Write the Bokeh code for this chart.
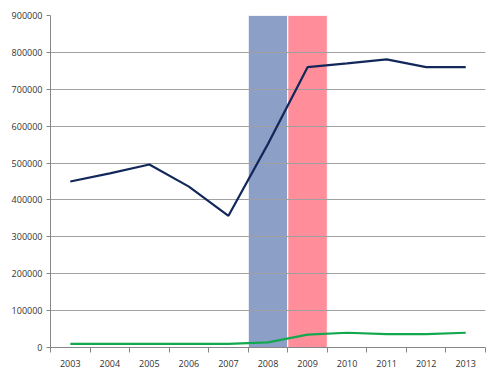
from bokeh.plotting import figure
from bokeh.models import FixedTicker, Range1d, BasicTickFormatter
from bokeh.embed import file_html
from bokeh.resources import INLINE

years = ["2003", "2004", "2005", "2006", "2007", "2008", "2009", "2010", "2011", "2012", "2013"]
series_blue = [450000, 472000, 496000, 436000, 357000, 552000, 760000, 770000, 781000, 760000, 760000]
series_green = [10000, 10000, 10000, 10000, 10000, 14000, 35000, 40000, 36000, 36000, 40000]
band_years = ["2008", "2009"]
band_colors = ["#8C9FC7", "#FF8E9A"]
y_ticks = [0, 100000, 200000, 300000, 400000, 500000, 600000, 700000, 800000, 900000]

FONT = "Open Sans"
n = len(years)
xc = [i + 0.5 for i in range(n)]

p = figure(width=492, height=368, output_backend="svg", toolbar_location=None,
           x_range=Range1d(0, n), y_range=Range1d(y_ticks[0], y_ticks[-1]),
           frame_width=435, frame_height=332,
           min_border_left=50, min_border_right=7, min_border_top=15, min_border_bottom=21)
p.outline_line_color = None
p.background_fill_color = "white"

# bands
for yr, col in zip(band_years, band_colors):
    i = years.index(yr)
    p.quad(left=[i], right=[i + 1], bottom=[y_ticks[0]], top=[y_ticks[-1]],
           fill_color=col, line_color="white", line_width=1, level="underlay")

p.line(xc, series_blue, line_color="#13285A", line_width=2.2, level="overlay")
p.line(xc, series_green, line_color="#12A84E", line_width=2.2, level="overlay")

# x axis
xa = p.xaxis[0]
xa.ticker = FixedTicker(ticks=xc, minor_ticks=list(range(n + 1)))
xa.major_label_overrides = {x: y for x, y in zip(xc, years)}
xa.major_tick_out = 0
xa.major_tick_in = 0
xa.minor_tick_out = 5
xa.minor_tick_in = 0
xa.minor_tick_line_color = "#868686"
xa.axis_line_color = "#868686"
xa.major_label_text_font = FONT
xa.major_label_text_font_size = "9px"
xa.major_label_text_color = "#333333"
xa.major_label_standoff = 7

ya = p.yaxis[0]
ya.ticker = FixedTicker(ticks=y_ticks)
ya.formatter = BasicTickFormatter(use_scientific=False)
ya.major_tick_out = 4
ya.major_tick_in = 0
ya.minor_tick_line_color = None
ya.major_tick_line_color = "#868686"
ya.axis_line_color = "#868686"
ya.major_label_text_font = FONT
ya.major_label_text_font_size = "9px"
ya.major_label_text_color = "#333333"
ya.major_label_standoff = 4

p.xgrid.grid_line_color = None
p.ygrid.ticker = FixedTicker(ticks=y_ticks)
p.ygrid.grid_line_color = "#A0A0A0"
p.ygrid.grid_line_width = 1
p.ygrid.level = "glyph"

open("out.html", "w").write(file_html(p, INLINE))
